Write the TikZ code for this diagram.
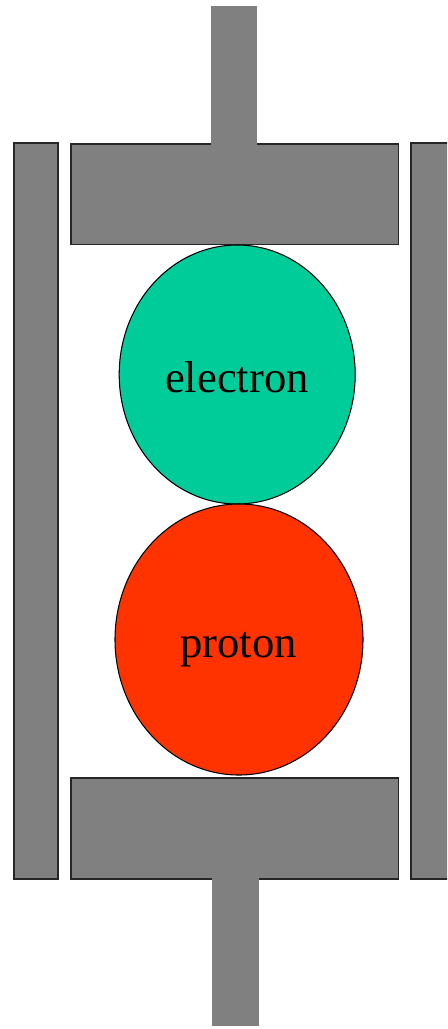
\documentclass[tikz,border=0pt]{standalone}
\usepackage{fontspec}
\setmainfont{Liberation Serif}
\definecolor{platecol}{HTML}{808080}
\definecolor{electroncol}{HTML}{00CC99}
\definecolor{protoncol}{HTML}{FF3300}
\tikzset{
	plate/.style = {fill=platecol,draw=black!85,line width = 0.6},
	stem/.style = {fill=platecol,draw=none},
	charge/.style = {draw=black,line width = 0.6},
	chargelabel/.style = {anchor=base,font=\fontsize{25.4}{30}\selectfont}
}
\begin{document}
\begin{tikzpicture}[x=0.02cm,y=-0.02cm]%pixels of the reference, y going down
	\useasboundingbox (0,0) rectangle (447,1029);
	\clip (0,0) rectangle (447,1029);
	
	\filldraw[plate] (14,143) rectangle (58,879);
	\filldraw[plate] (411,143) rectangle (460,879);
	
	\filldraw[plate] (71,144) rectangle (398.5,244.5);
	\filldraw[plate] (71,778) rectangle (398.5,879);
	\fill[stem] (211,6) rectangle (257.3,145);
	\fill[stem] (212,878) rectangle (258.7,1026);
	
	\filldraw[charge,fill=electroncol] (237.2,374.5) ellipse (118 and 129.5);
	\filldraw[charge,fill=protoncol] (239,639.5) ellipse (124 and 135.5);
	
	\node[chargelabel] (electron) at (237,392) {electron};
	\node[chargelabel] (proton) at (238.5,657) {proton};
\end{tikzpicture}
\end{document}
